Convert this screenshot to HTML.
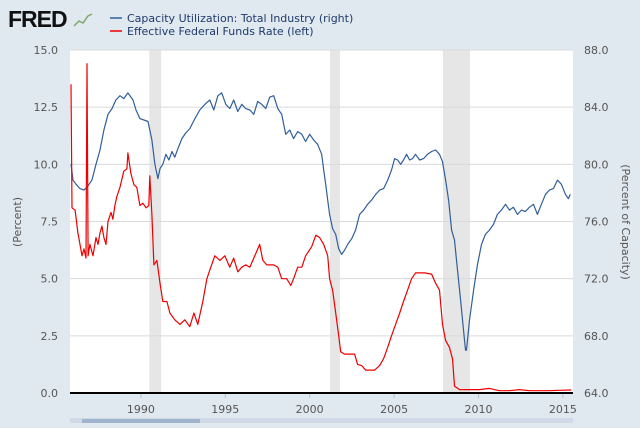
<!DOCTYPE html>
<html><head><meta charset="utf-8">
<style>
html,body{margin:0;padding:0;background:#e1e9f0;}
body{width:640px;height:423px;overflow:hidden;font-family:"Liberation Sans",sans-serif;}
svg text{font-family:"DejaVu Sans","Liberation Sans",sans-serif;}
</style></head>
<body>
<svg id="chart" width="640" height="423" xmlns="http://www.w3.org/2000/svg">
<rect x="0" y="0" width="640" height="423" fill="#e1e9f0"/>
<text x="8" y="27" font-family="Liberation Sans" font-weight="bold" font-size="23" fill="#111" style="font-family:'Liberation Sans',sans-serif;letter-spacing:-1px">FRED</text>
<polyline points="74,26 79,21 83,23 88,16 92,14" fill="none" stroke="#7fa86a" stroke-width="1.5"/>
<g>
 <g>
  <line x1="110" y1="18" x2="122" y2="18" stroke="#2f5f9a" stroke-width="1.5"/>
  <text x="127" y="22" font-size="11" fill="#1f3a6a">Capacity Utilization: Total Industry (right)</text>
 </g>
 <g>
  <line x1="110" y1="31" x2="122" y2="31" stroke="#e00" stroke-width="1.5"/>
  <text x="127" y="35" font-size="11" fill="#1f3a6a">Effective Federal Funds Rate (left)</text>
 </g>
</g>
<rect x="70" y="50" width="503" height="343" fill="#fff"/>
<g id="bands"></g>
<g id="grid"></g>
<g id="series"></g>
<g id="axes"></g>
<text transform="translate(21,222) rotate(-90)" text-anchor="middle" font-size="11" fill="#555">(Percent)</text>
<text transform="translate(622,222) rotate(90)" text-anchor="middle" font-size="11" fill="#555">(Percent of Capacity)</text>
<rect x="70" y="418" width="503" height="5" fill="#cfdae6"/>
<rect x="82" y="419" width="118" height="4" fill="#9fb4cc"/>
</svg>
<script>
const leftTicks=[0,2.5,5,7.5,10,12.5,15];
const leftTickLabels=["0.0","2.5","5.0","7.5","10.0","12.5","15.0"];
const rightTicks=[64,68,72,76,80,84,88];
const rightTickLabels=["64.0","68.0","72.0","76.0","80.0","84.0","88.0"];
const xTicks=[1990,1995,2000,2005,2010,2015];
const recessionStart=[1990.5,2001.2,2007.9];
const recessionEnd=[1991.2,2001.8,2009.5];
const fedDates=[1985.86,1985.92,1986.10,1986.27,1986.39,1986.51,1986.63,1986.75,1986.81,1986.87,1986.98,1987.16,1987.34,1987.46,1987.58,1987.69,1987.81,1987.93,1988.05,1988.23,1988.34,1988.46,1988.58,1988.76,1988.99,1989.17,1989.23,1989.41,1989.59,1989.76,1989.94,1990.12,1990.30,1990.47,1990.53,1990.65,1990.77,1990.95,1991.13,1991.30,1991.54,1991.72,1992.01,1992.31,1992.60,1992.90,1993.14,1993.37,1993.67,1993.91,1994.14,1994.38,1994.68,1994.97,1995.27,1995.50,1995.74,1995.98,1996.21,1996.45,1996.75,1997.04,1997.22,1997.46,1997.63,1997.87,1998.11,1998.34,1998.64,1998.88,1999.05,1999.29,1999.53,1999.76,2000.12,2000.36,2000.59,2000.83,2001.07,2001.18,2001.36,2001.54,2001.72,2001.84,2002.07,2002.37,2002.66,2002.84,2003.08,2003.31,2003.55,2003.85,2004.14,2004.38,2004.62,2004.85,2005.09,2005.33,2005.56,2005.80,2006.04,2006.27,2006.51,2006.81,2007.22,2007.46,2007.69,2007.87,2008.05,2008.28,2008.46,2008.58,2008.88,2009.47,2010.06,2010.65,2011.24,2011.84,2012.43,2013.02,2013.61,2014.20,2014.79,2015.50];
const fedValues=[13.5,8.1,8.0,7.0,6.5,6.0,6.3,5.9,14.4,6.0,6.5,6.0,6.8,6.5,7.0,7.3,6.8,6.5,7.5,7.9,7.6,8.2,8.6,9.0,9.7,9.8,10.5,9.6,9.1,9.0,8.2,8.3,8.1,8.2,9.5,7.8,5.6,5.8,4.8,4.0,4.0,3.5,3.2,3.0,3.2,2.9,3.5,3.0,4.0,5.0,5.5,6.0,5.8,6.0,5.5,5.9,5.3,5.5,5.6,5.5,6.0,6.5,5.8,5.6,5.6,5.6,5.5,5.0,5.0,4.7,5.0,5.5,5.5,6.0,6.4,6.9,6.8,6.5,6.0,5.0,4.5,3.5,2.5,1.8,1.7,1.7,1.7,1.25,1.2,1.0,1.0,1.0,1.2,1.5,2.0,2.5,3.0,3.5,4.0,4.5,5.0,5.25,5.25,5.25,5.2,4.8,4.5,3.0,2.3,2.0,1.5,0.3,0.15,0.15,0.15,0.2,0.1,0.1,0.15,0.1,0.1,0.1,0.12,0.13];
const capDates=[1985.86,1985.98,1986.16,1986.39,1986.63,1986.87,1987.10,1987.34,1987.58,1987.81,1988.05,1988.29,1988.52,1988.76,1988.99,1989.23,1989.53,1989.71,1989.94,1990.18,1990.42,1990.65,1990.83,1991.01,1991.13,1991.30,1991.48,1991.66,1991.84,1992.01,1992.19,1992.43,1992.66,1992.90,1993.20,1993.49,1993.79,1994.08,1994.32,1994.56,1994.79,1995.03,1995.27,1995.50,1995.74,1995.98,1996.21,1996.45,1996.69,1996.92,1997.16,1997.40,1997.63,1997.87,1998.11,1998.34,1998.58,1998.82,1999.05,1999.29,1999.53,1999.76,2000.00,2000.24,2000.47,2000.71,2000.83,2000.95,2001.07,2001.18,2001.36,2001.54,2001.72,2001.89,2002.07,2002.25,2002.49,2002.72,2002.96,2003.20,2003.43,2003.67,2003.91,2004.14,2004.38,2004.62,2004.85,2005.03,2005.21,2005.39,2005.56,2005.74,2005.92,2006.10,2006.27,2006.51,2006.75,2006.98,2007.22,2007.46,2007.69,2007.87,2008.05,2008.23,2008.41,2008.58,2008.76,2008.94,2009.11,2009.23,2009.29,2009.47,2009.71,2009.94,2010.18,2010.41,2010.65,2010.89,2011.12,2011.36,2011.60,2011.84,2012.07,2012.31,2012.55,2012.78,2013.02,2013.26,2013.49,2013.73,2013.97,2014.20,2014.44,2014.68,2014.91,2015.15,2015.33,2015.44];
const capValues=[80.0,78.9,78.6,78.3,78.2,78.5,78.9,80.0,81.0,82.4,83.5,83.9,84.5,84.8,84.6,85.0,84.5,83.8,83.2,83.1,83.0,81.7,80.0,79.0,79.7,80.0,80.7,80.3,80.9,80.5,81.1,81.8,82.2,82.5,83.2,83.8,84.2,84.5,83.8,84.8,85.0,84.2,83.9,84.5,83.7,84.2,83.9,83.8,83.5,84.4,84.2,83.9,84.7,84.8,83.9,83.5,82.1,82.4,81.8,82.3,82.1,81.6,82.1,81.7,81.4,80.7,79.6,78.6,77.5,76.5,75.5,75.1,74.1,73.7,74.0,74.4,74.8,75.4,76.5,76.8,77.2,77.5,77.9,78.2,78.3,78.9,79.6,80.4,80.3,80.0,80.3,80.7,80.3,80.4,80.7,80.3,80.4,80.7,80.9,81.0,80.7,80.2,78.9,77.5,75.4,74.7,72.6,70.5,68.4,67.0,67.0,69.1,71.2,73.0,74.4,75.1,75.4,75.8,76.5,76.8,77.2,76.8,77.0,76.5,76.8,76.7,77.0,77.2,76.5,77.2,77.9,78.2,78.3,78.9,78.6,77.9,77.6,77.9];

const PX0=70,PX1=573,PY0=50,PY1=393;
const XMIN=1985.8,XMAX=2015.6;
const xs=y=>PX0+(y-XMIN)/(XMAX-XMIN)*(PX1-PX0);
const yl=v=>PY1-(v-0)/(15-0)*(PY1-PY0);
const yr=v=>PY1-(v-64)/(88-64)*(PY1-PY0);
const NS="http://www.w3.org/2000/svg";
function mk(tag,attrs,parent){const e=document.createElementNS(NS,tag);for(const k in attrs)e.setAttribute(k,attrs[k]);parent.appendChild(e);return e;}

const bands=document.getElementById('bands');
for(let i=0;i<recessionStart.length;i++){
 const r=mk('rect',{x:xs(recessionStart[i]),y:PY0,width:xs(recessionEnd[i])-xs(recessionStart[i]),height:PY1-PY0,fill:'#e6e6e6'},bands);
 
 
}
const grid=document.getElementById('grid');
const axes=document.getElementById('axes');
leftTicks.forEach((t,i)=>{
 if(t>0){const g=mk('line',{x1:PX0,x2:PX1,y1:yl(t),y2:yl(t),stroke:'#dadada','stroke-width':1},grid);
 
 }
 const l=mk('text',{x:58,y:yl(t)+4,'text-anchor':'end','font-size':11,fill:'#555'},axes);
 l.textContent=leftTickLabels[i];
 
 
});
rightTicks.forEach((t,i)=>{
 const l=mk('text',{x:584,y:yr(t)+4,'text-anchor':'start','font-size':11,fill:'#555'},axes);
 l.textContent=rightTickLabels[i];
 
 
});
xTicks.forEach(t=>{
 const tk=mk('line',{x1:xs(t),x2:xs(t),y1:PY1,y2:PY1+5,stroke:'#c0c0c0'},axes);
 
 
 const l=mk('text',{x:xs(t),y:PY1+20,'text-anchor':'middle','font-size':11,fill:'#555'},axes);
 l.textContent=String(t);
 
 
});
const series=document.getElementById('series');
const bp=capDates.map((d,i)=>xs(d).toFixed(1)+','+yr(capValues[i]).toFixed(1)).join(' ');
const bl=mk('polyline',{points:bp,fill:'none',stroke:'#2f5f9a','stroke-width':1.2,'stroke-linejoin':'round'},series);


const rp=fedDates.map((d,i)=>xs(d).toFixed(1)+','+yl(fedValues[i]).toFixed(1)).join(' ');
const rl=mk('polyline',{points:rp,fill:'none',stroke:'#ee0000','stroke-width':1.2,'stroke-linejoin':'round'},series);


const ax=mk('line',{x1:PX0,x2:PX1,y1:PY1,y2:PY1,stroke:'#000','stroke-width':2},axes);


</script>
</body></html>
